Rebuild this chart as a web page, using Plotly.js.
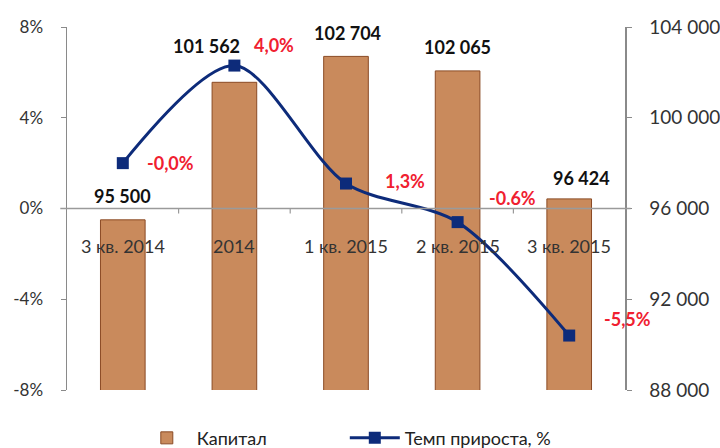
<!DOCTYPE html>
<html>
<head>
<meta charset="utf-8">
<script src="https://cdn.plot.ly/plotly-3.0.1.min.js"></script>
<style>html,body{margin:0;padding:0;background:#fff;}#chart{width:720px;height:448px;}</style>
</head>
<body>
<div id="chart"></div>
<script>
// ---- data ----
const categories = ['3 кв. 2014', '2014', '1 кв. 2015', '2 кв. 2015', '3 кв. 2015'];
const capital = [95500, 101562, 102704, 102065, 96424];
const capitalLabels = ['95 500', '101 562', '102 704', '102 065', '96 424'];
const growth = [2.0, 6.3, 1.1, -0.6, -5.6];           // plotted position of the line (%)
const growthLabels = ['-0,0%', '4,0%', '1,3%', '-0.6%', '-5,5%'];
const pctTicks = [-8, -4, 0, 4, 8];
const pctTickText = ['-8%', '-4%', '0%', '4%', '8%'];
const capTicks = [88000, 92000, 96000, 100000, 104000];
const capTickText = ['88 000', '92 000', '96 000', '100 000', '104 000'];

// ---- label offsets (pixels) ----
const capShift = [[0, 24], [-28, 36], [1, 23], [0, 24], [12, 21]];
const growthShift = [[48, 0], [40, 21], [59, 3], [55, 24], [58, 17]];

const FONT = 'Lato, "Noto Sans", sans-serif';

const bars = {
  type: 'bar', name: 'Капитал', x: categories, y: capital, yaxis: 'y',
  marker: {color: '#c98a5c', line: {color: '#8a4a24', width: 1}},
  hoverinfo: 'skip'
};
const line = {
  type: 'scatter', mode: 'lines+markers', name: 'Темп прироста, %',
  x: categories, y: growth, yaxis: 'y2',
  line: {color: '#0d2b7a', width: 3, shape: 'spline', smoothing: 0.85},
  marker: {symbol: 'square', size: 12, color: '#0d2b7a'},
  hoverinfo: 'skip'
};

const annotations = [];
categories.forEach((c, i) => {
  annotations.push({x: i, y: capital[i], xref: 'x', yref: 'y', text: capitalLabels[i],
    showarrow: false, xshift: capShift[i][0], yshift: capShift[i][1],
    font: {family: FONT, size: 18, color: '#111', weight: 'bold'}});
  annotations.push({x: i, y: growth[i], xref: 'x', yref: 'y2', text: growthLabels[i],
    showarrow: false, xshift: growthShift[i][0], yshift: growthShift[i][1],
    font: {family: FONT, size: 18, color: '#f02030', weight: 'bold'}});
  annotations.push({x: i, y: 0, xref: 'x', yref: 'y2', text: c,
    showarrow: false, yshift: -37,
    font: {family: FONT, size: 18, color: '#333'}});
});

const shapes = [{type: 'line', xref: 'paper', yref: 'y2', x0: -0.012, x1: 1.01, y0: 0, y1: 0,
  line: {color: '#9a9a9a', width: 1.5}, layer: 'above'}];
[0.5, 1.5, 2.5, 3.5].forEach(b => shapes.push({type: 'line', xref: 'x', yref: 'y2',
  x0: b, x1: b, y0: 0, y1: -0.22, line: {color: '#9a9a9a', width: 1.2}}));

const layout = {
  width: 720, height: 448,
  margin: {l: 67, r: 95, t: 27, b: 58},
  paper_bgcolor: '#ffffff', plot_bgcolor: 'rgba(0,0,0,0)',
  showlegend: true,
  legend: {orientation: 'h', xref: 'container', yref: 'container', x: 0.19, xanchor: 'left',
    y: 0.022, yanchor: 'middle', entrywidth: 143, itemwidth: 50,
    font: {family: FONT, size: 18, color: '#222'}},
  bargap: 0.6,
  xaxis: {type: 'category', showticklabels: false, showline: false, ticks: '',
    showgrid: false, zeroline: false, range: [-0.5, 4.5]},
  yaxis: {side: 'right', range: [88000, 104000], tickvals: capTicks, ticktext: capTickText,
    showgrid: false, zeroline: false, showline: true, linecolor: '#8a8a8a', linewidth: 1.5,
    ticks: 'outside', ticklen: 5, tickcolor: '#8a8a8a', ticklabelstandoff: 14,
    tickfont: {family: FONT, size: 19, color: '#333'}},
  yaxis2: {side: 'left', overlaying: 'y', range: [-8, 8], tickvals: pctTicks, ticktext: pctTickText,
    showgrid: false, zeroline: false, showline: true, linecolor: '#8a8a8a', linewidth: 1.5,
    ticks: 'outside', ticklen: 5, tickcolor: '#8a8a8a', ticklabelstandoff: 14,
    tickfont: {family: FONT, size: 17, color: '#333'}},
  annotations: annotations,
  shapes: shapes
};

Plotly.newPlot('chart', [bars, line], layout, {displayModeBar: false, staticPlot: true});
</script>
</body>
</html>
